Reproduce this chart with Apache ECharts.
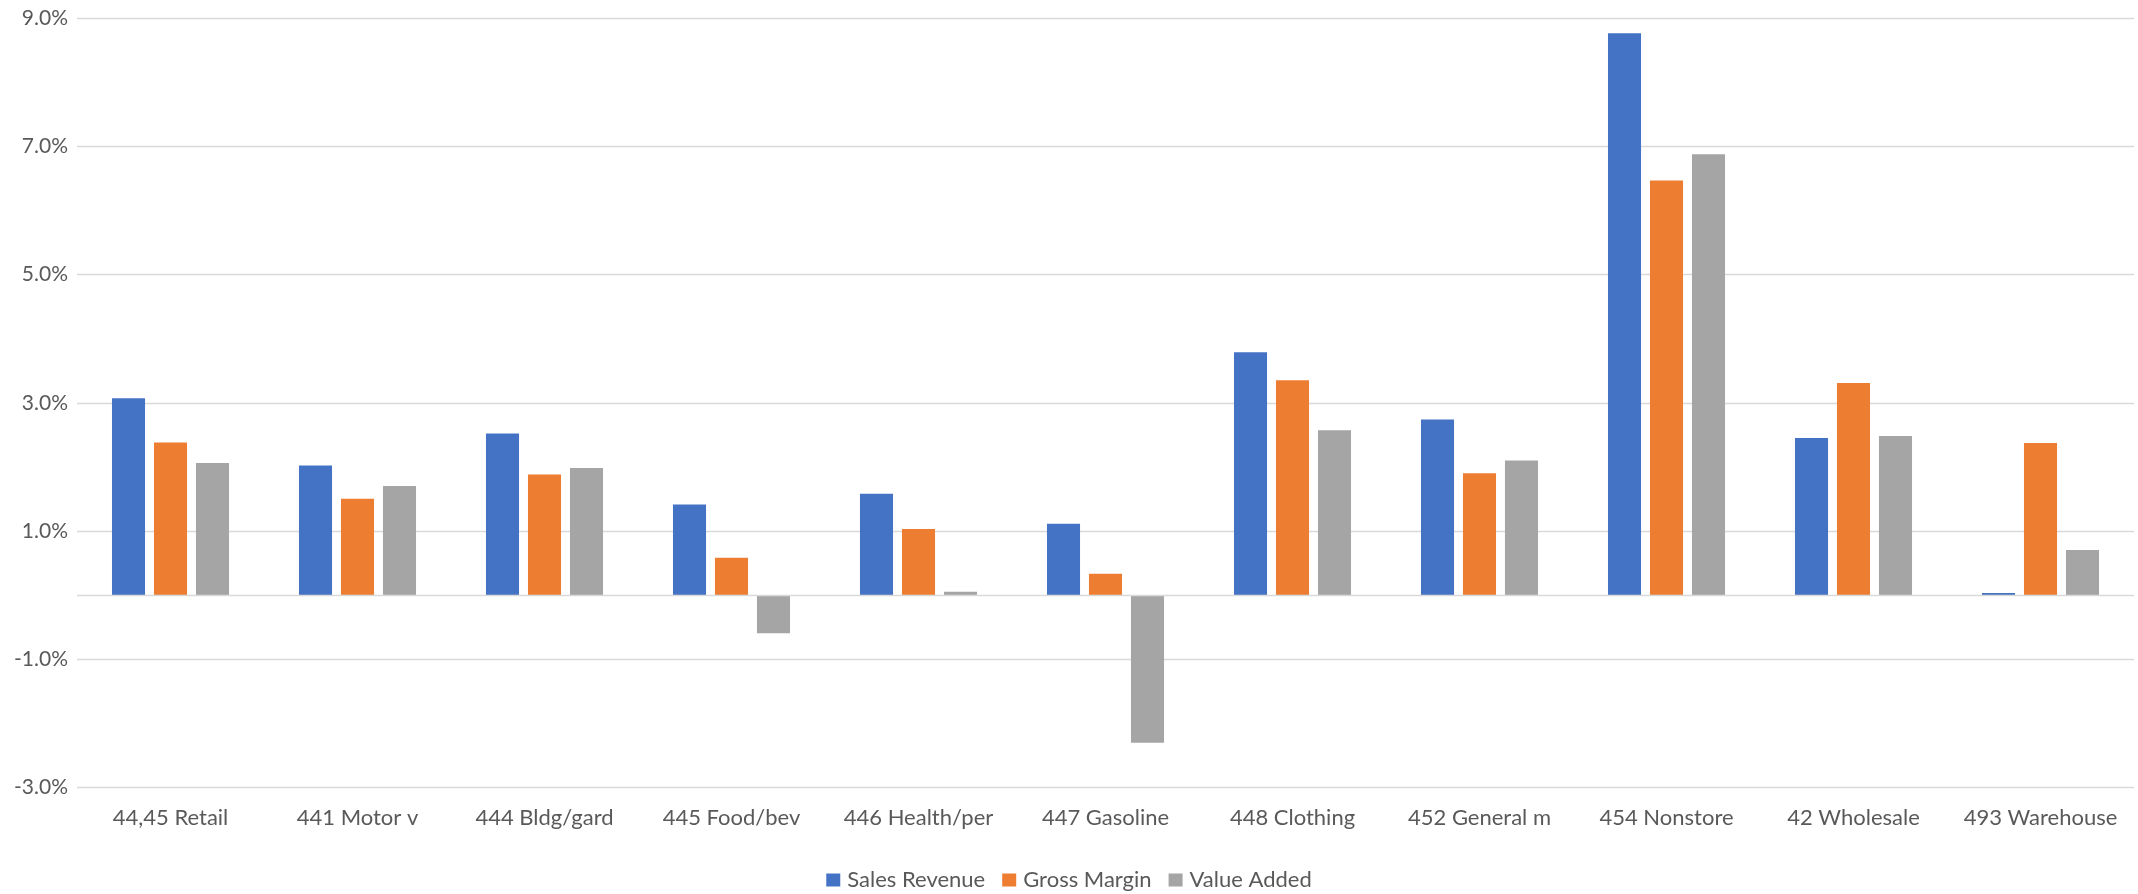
<!DOCTYPE html>
<html>
<head>
<meta charset="utf-8">
<script src="https://cdn.jsdelivr.net/npm/echarts@6/dist/echarts.min.js"></script>
<style>
  html, body { margin: 0; padding: 0; background: #fff; }
  #main { width: 2138px; height: 894px; }
</style>
</head>
<body>
<div id="main"></div>
<script>
// categories (x axis)
var categories = ['44,45 Retail', '441 Motor v', '444 Bldg/gard', '445 Food/bev', '446 Health/per',
  '447 Gasoline', '448 Clothing', '452 General m', '454 Nonstore', '42 Wholesale', '493 Warehouse'];

// values in percent
var salesRevenue = [3.07, 2.02, 2.52, 1.41, 1.58, 1.11, 3.79, 2.74, 8.77, 2.45, 0.03];
var grossMargin  = [2.38, 1.50, 1.88, 0.58, 1.03, 0.33, 3.35, 1.90, 6.47, 3.31, 2.37];
var valueAdded   = [2.06, 1.70, 1.98, -0.60, 0.05, -2.31, 2.57, 2.10, 6.88, 2.48, 0.70];

var seriesNames = ['Sales Revenue', 'Gross Margin', 'Value Added'];
var colors = ['#4472c4', '#ed7d31', '#a5a5a5'];

var textColor = '#595959';
var font = 'Lato, "Open Sans", sans-serif';

var myChart = echarts.init(document.getElementById('main'));

var option = {
  animation: false,
  color: colors,
  textStyle: { fontFamily: font },
  grid: {
    left: 77,
    right: 4,
    top: 18.5,
    bottom: 107,
    containLabel: false
  },
  legend: {
    left: 'center',
    top: 869,
    padding: 0,
    itemWidth: 14,
    itemHeight: 13,
    itemGap: 17,
    icon: 'rect',
    textStyle: { color: textColor, fontSize: 22, fontFamily: font, padding: [0, 0, 0, 2] },
    data: seriesNames
  },
  xAxis: {
    type: 'category',
    data: categories,
    axisLine: { show: false, onZero: false },
    axisTick: { show: false },
    axisLabel: { color: textColor, fontSize: 22, margin: 20, interval: 0, fontFamily: font }
  },
  yAxis: {
    type: 'value',
    min: -3,
    max: 9,
    interval: 2,
    axisLine: { show: false },
    axisTick: { show: false },
    splitLine: { lineStyle: { color: '#d9d9d9', width: 1.3 } },
    axisLabel: {
      color: textColor,
      fontSize: 21,
      margin: 9,
      fontFamily: font,
      formatter: function (v) { return v.toFixed(1) + '%'; }
    }
  },
  series: [{
    name: seriesNames[0],
    type: 'bar',
    data: salesRevenue,
    barGap: '27%',
    barCategoryGap: '37.4%',
    markLine: {
      silent: true,
      symbol: 'none',
      label: { show: false },
      lineStyle: { color: '#d9d9d9', width: 1.3, type: 'solid' },
      data: [{ yAxis: 0 }]
    }
  }, {
    name: seriesNames[1],
    type: 'bar',
    data: grossMargin,
    barGap: '27%',
    barCategoryGap: '37.4%'
  }, {
    name: seriesNames[2],
    type: 'bar',
    data: valueAdded,
    barGap: '27%',
    barCategoryGap: '37.4%'
  }]
};

myChart.setOption(option);
</script>
</body>
</html>
